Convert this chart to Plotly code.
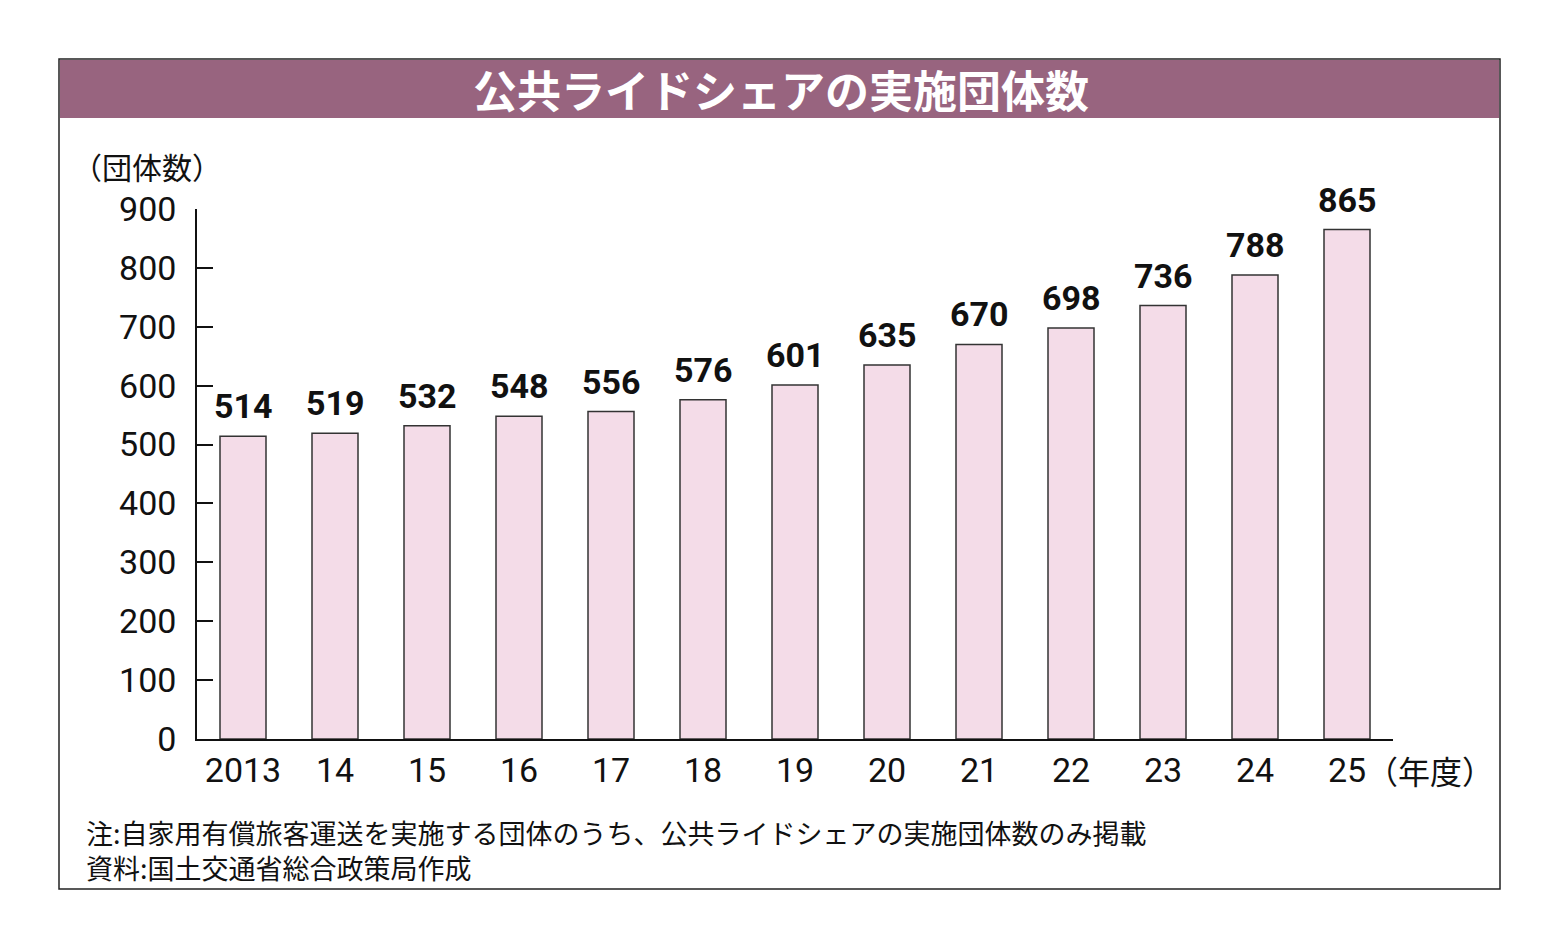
import plotly.graph_objects as go

# data
years = ["2013", "14", "15", "16", "17", "18", "19", "20", "21", "22", "23", "24", "25"]
counts = [514, 519, 532, 548, 556, 576, 601, 635, 670, 698, 736, 788, 865]
y_ticks = [0, 100, 200, 300, 400, 500, 600, 700, 800, 900]

W, H = 1559, 950
# plot area in reference pixels
X0, X1 = 197, 1393
Y0, Y1 = 209, 739
PAGE_PAD = 8  # body margin of the html page

NUM_FONT = "Roboto, sans-serif"
JP_FONT = "Noto Sans CJK JP, sans-serif"
PURPLE = "#98647f"
INK = "#111111"


def px(x):
    return (x - X0) / (X1 - X0)


def py(y):
    return (Y1 - y) / (Y1 - Y0)


fig = go.Figure()
fig.add_trace(go.Bar(
    x=years,
    y=counts,
    width=0.5,
    marker=dict(color="#f4dce8", line=dict(color="#333333", width=1.5)),
    hoverinfo="skip",
))

# value labels above the bars (category axis -> position by index)
for i, v in enumerate(counts):
    fig.add_annotation(x=i, y=v, xref="x", yref="y", text="<b>%d</b>" % v,
                       showarrow=False, yanchor="bottom", yshift=8,
                       font=dict(family=NUM_FONT, size=34, color=INK))

fig.update_layout(
    width=W, height=H,
    margin=dict(l=X0 - PAGE_PAD, r=W - X1 + PAGE_PAD,
                t=Y0 - PAGE_PAD, b=H - Y1 + PAGE_PAD),
    paper_bgcolor="white",
    plot_bgcolor="white",
    showlegend=False,
    xaxis=dict(
        type="category",
        range=[-0.5, 12.5],
        showline=True, linecolor=INK, linewidth=1.5,
        ticks="", showgrid=False,
        tickfont=dict(family=NUM_FONT, size=34, color=INK),
    ),
    yaxis=dict(
        range=[0, 900],
        tickvals=y_ticks,
        showline=True, linecolor=INK, linewidth=1.5,
        ticks="inside", ticklen=16, tickwidth=1.5, tickcolor=INK,
        showgrid=False, zeroline=False,
        tickfont=dict(family=NUM_FONT, size=34, color=INK),
        ticklabelstandoff=12,
    ),
)

# outer frame and title band
fig.add_shape(type="rect", xref="paper", yref="paper",
              x0=px(59), x1=px(1500), y0=py(889), y1=py(59),
              line=dict(color="#222222", width=1.5), fillcolor="rgba(0,0,0,0)", layer="below")
fig.add_shape(type="rect", xref="paper", yref="paper",
              x0=px(60), x1=px(1499), y0=py(118), y1=py(60),
              line=dict(width=0), fillcolor=PURPLE, layer="below")

fig.add_annotation(text="<b>公共ライドシェアの実施団体数</b>", xref="paper", yref="paper",
                   x=px(781), y=py(89), xanchor="center", yanchor="middle", showarrow=False,
                   font=dict(family=JP_FONT, size=44, color="white"))

fig.add_annotation(text="（団体数）", xref="paper", yref="paper",
                   x=px(70), y=py(166), xanchor="left", yanchor="middle", showarrow=False,
                   font=dict(family=JP_FONT, size=30, color=INK))
fig.add_annotation(text="（年度）", xref="paper", yref="paper",
                   x=px(1364), y=py(770), xanchor="left", yanchor="middle", showarrow=False,
                   font=dict(family=JP_FONT, size=32, color=INK))

# notes (two lines in one text block)
fig.add_annotation(text="注:自家用有償旅客運送を実施する団体のうち、公共ライドシェアの実施団体数のみ掲載"
                        "<br>資料:国土交通省総合政策局作成",
                   xref="paper", yref="paper", x=px(84), y=py(850),
                   xanchor="left", yanchor="middle", align="left", showarrow=False,
                   font=dict(family=JP_FONT, size=27, color=INK))

fig.write_html("out.html")
